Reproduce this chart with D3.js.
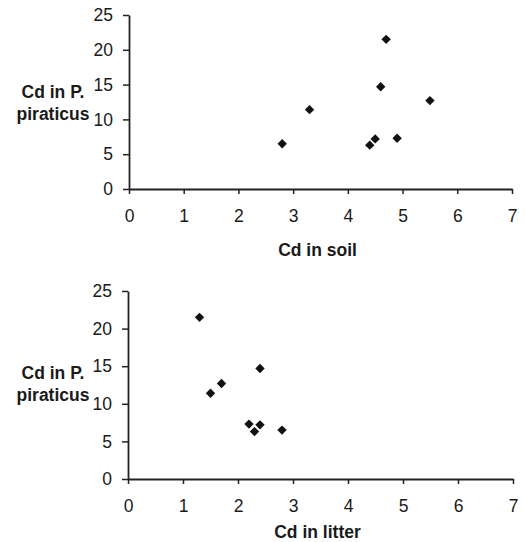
<!DOCTYPE html>
<html>
<head>
<meta charset="utf-8">
<script src="https://cdn.jsdelivr.net/npm/d3@7"></script>
<style>
  body { margin: 0; background: #fff; }
  svg { display: block; }
  .tick text { font-family: "Liberation Sans", Arial, sans-serif; font-size: 17.5px; fill: #1a1a1a; }
  .title { font-family: "Liberation Sans", Arial, sans-serif; font-size: 17.5px; font-weight: bold; fill: #1a1a1a; }
</style>
</head>
<body>
<div id="chart"></div>
<script>
// data
const cdPiraticus = [6.5, 11.4, 21.5, 14.7, 12.7, 6.3, 7.2, 7.3];
const cdSoil      = [2.8, 3.3, 4.7, 4.6, 5.5, 4.4, 4.5, 4.9];
const cdLitter    = [2.8, 1.5, 1.3, 2.4, 1.7, 2.3, 2.4, 2.2];
const xTicks = [0, 1, 2, 3, 4, 5, 6, 7];
const yTicks = [0, 5, 10, 15, 20, 25];

const width = 525, height = 542;

const svg = d3.select("#chart").append("svg")
  .attr("width", width)
  .attr("height", height);

const diamond = d3.symbol().type(d3.symbolSquare).size(44);

function panel(xs, xTitle, box) {
  const x = d3.scaleLinear().domain([0, 7]).range([box.left, box.right]);
  const y = d3.scaleLinear().domain([0, 25]).range([box.bottom, box.top]);
  const g = svg.append("g");

  const xAxis = g.append("g")
    .attr("transform", `translate(0,${box.bottom})`)
    .call(d3.axisBottom(x).tickValues(xTicks).tickFormat(d3.format("d"))
      .tickSize(5).tickPadding(16).tickSizeOuter(0));
  const yAxis = g.append("g")
    .attr("transform", `translate(${box.left},0)`)
    .call(d3.axisLeft(y).tickValues(yTicks).tickFormat(d3.format("d"))
      .tickSize(6).tickPadding(10).tickSizeOuter(0));

  [xAxis, yAxis].forEach(a => {
    a.select(".domain").attr("stroke", "#222").attr("stroke-width", 1.8);
    a.selectAll(".tick line").attr("stroke", "#222").attr("stroke-width", 1.5);
  });

  g.selectAll("path.pt")
    .data(xs.map((v, i) => [v, cdPiraticus[i]]))
    .enter().append("path")
    .attr("class", "pt")
    .attr("d", diamond)
    .attr("fill", "#111")
    .attr("transform", d => `translate(${x(d[0])},${y(d[1])}) rotate(45)`);

  // axis titles
  g.append("text").attr("class", "title")
    .attr("x", (box.left + box.right) / 2 - 3)
    .attr("y", box.xTitleY)
    .attr("text-anchor", "middle")
    .text(xTitle);

  const yt = g.append("text").attr("class", "title")
    .attr("text-anchor", "middle");
  yt.append("tspan").attr("x", 53).attr("y", box.yTitleY).text("Cd in P.");
  yt.append("tspan").attr("x", 53).attr("y", box.yTitleY + 22).text("piraticus");
}

panel(cdSoil, "Cd in soil", { left: 129, right: 512, top: 15, bottom: 189, xTitleY: 256, yTitleY: 98 });
panel(cdLitter, "Cd in litter", { left: 128, right: 513, top: 291, bottom: 479, xTitleY: 538, yTitleY: 379 });
</script>
</body>
</html>
